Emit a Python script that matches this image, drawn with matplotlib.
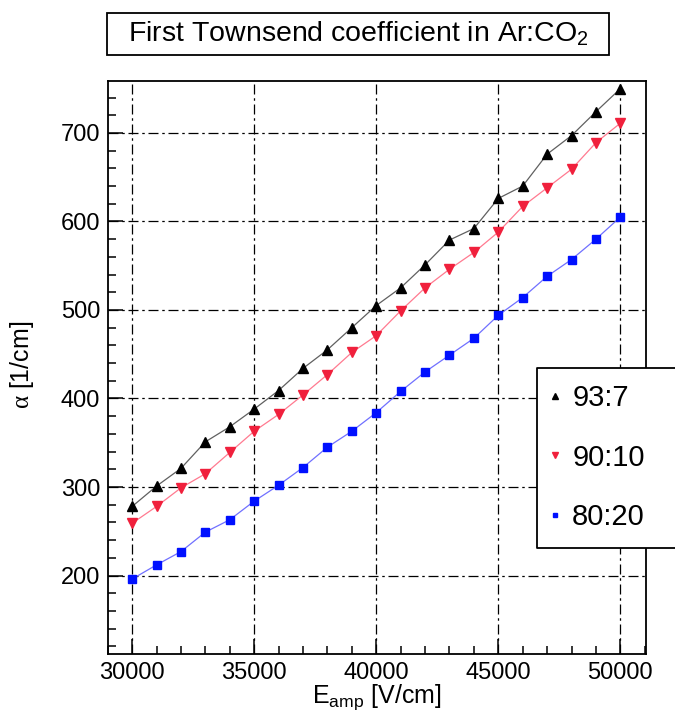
import matplotlib
matplotlib.use('Agg')
import matplotlib.pyplot as plt
from matplotlib.patches import Rectangle
from matplotlib.ticker import MultipleLocator
from matplotlib.lines import Line2D

plt.rcParams['font.family'] = ['Liberation Sans', 'DejaVu Sans']
plt.rcParams['mathtext.fontset'] = 'custom'
plt.rcParams['mathtext.rm'] = 'Liberation Sans'
plt.rcParams['mathtext.sf'] = 'Liberation Serif'

# field values [V/cm]
e_amp = [30000, 31000, 32000, 33000, 34000, 35000, 36000, 37000, 38000, 39000, 40000,
         41000, 42000, 43000, 44000, 45000, 46000, 47000, 48000, 49000, 50000]
# alpha [1/cm] for each Ar:CO2 mixture
alpha_93_7 = [278, 301, 321, 351, 368, 388, 409, 434, 455, 480, 505,
              525, 551, 579, 592, 626, 640, 676, 697, 724, 750]
alpha_90_10 = [259, 278, 299, 315, 339, 363, 382, 404, 427, 452, 471,
               499, 525, 546, 565, 588, 617, 638, 659, 689, 711]
alpha_80_20 = [196, 212, 227, 249, 263, 284, 302, 322, 345, 363, 384,
               408, 430, 449, 468, 494, 514, 538, 557, 580, 605]
labels = ['93:7', '90:10', '80:20']

W, H = 675, 713
fig = plt.figure(figsize=(W / 100, H / 100), dpi=100)
ax = fig.add_axes([107.7 / W, 1 - 654.3 / H, (646 - 107.7) / W, (654.3 - 80.7) / H])

series = [
    (alpha_93_7, '^', 'black', '#606060', 6.5),
    (alpha_90_10, 'v', '#f0203c', '#ff7a90', 6.5),
    (alpha_80_20, 's', '#0010ff', '#7070ff', 6.0),
]
for (vals, mk, mc, lc, ms) in series:
    ax.plot(e_amp, vals, color=lc, lw=0.9, zorder=3)
    ax.plot(e_amp, vals, ls='none', marker=mk, ms=ms, color=mc, mec=mc, zorder=4)

ax.set_xlim(29000, 51050)
ax.set_ylim(111, 759)
ax.xaxis.set_major_locator(MultipleLocator(5000))
ax.xaxis.set_minor_locator(MultipleLocator(1000))
ax.yaxis.set_major_locator(MultipleLocator(100))
ax.yaxis.set_minor_locator(MultipleLocator(20))
ax.tick_params(which='both', direction='in', top=False, right=False, width=1.1, color='black')
ax.tick_params(which='major', length=11, labelsize=17, pad=5.2)
ax.tick_params(which='minor', length=6)
ax.tick_params(axis='y', which='major', pad=5.5)
ax.grid(True, which='major', color='black', lw=0.9, dashes=(8, 3, 2, 3))
for s in ax.spines.values():
    s.set_linewidth(1.3)

ax.set_xlabel(r'E$_\mathrm{amp}$ [V/cm]', fontsize=18)
ax.xaxis.set_label_coords(0.5, -0.049)
ax.set_ylabel(r'$\mathsf{\alpha}$ [1/cm]', fontsize=18)
ax.yaxis.set_label_coords(-0.133, 0.505)

# title box
fig.patches.append(Rectangle((107 / W, 1 - 55 / H), (609 - 107) / W, 42 / H,
                             transform=fig.transFigure, fill=False, lw=1.3, ec='black'))
fig.text(358 / W, 1 - 34 / H, r'First Townsend coefficient in Ar:CO$_\mathrm{2}$',
         fontsize=20.5, ha='center', va='center')

# legend box, open on the right where it runs off the picture
lx0, ly0, ly1 = 536.7 / W, 1 - 547.7 / H, 1 - 367.7 / H
fig.patches.append(Rectangle((lx0, ly0), 1.2 - lx0, ly1 - ly0, transform=fig.transFigure,
                             fc='white', ec='none', zorder=5))
fig.add_artist(Line2D([1.2, lx0, lx0, 1.2], [ly1, ly1, ly0, ly0],
                      transform=fig.transFigure, color='black', lw=1.3, zorder=5.5))
handles = [Line2D([], [], ls='none', marker=mk, ms=ms * 0.6, color=mc)
           for (vals, mk, mc, lc, ms) in series]
leg = fig.legend(handles, labels, loc='upper left',
                 bbox_to_anchor=(543 / W, 1 - 384 / H), frameon=False,
                 fontsize=21, handlelength=0.8, handletextpad=0.2,
                 labelspacing=1.08, borderpad=0, borderaxespad=0)
leg.set_zorder(6)

fig.savefig('out.png', dpi=100)
